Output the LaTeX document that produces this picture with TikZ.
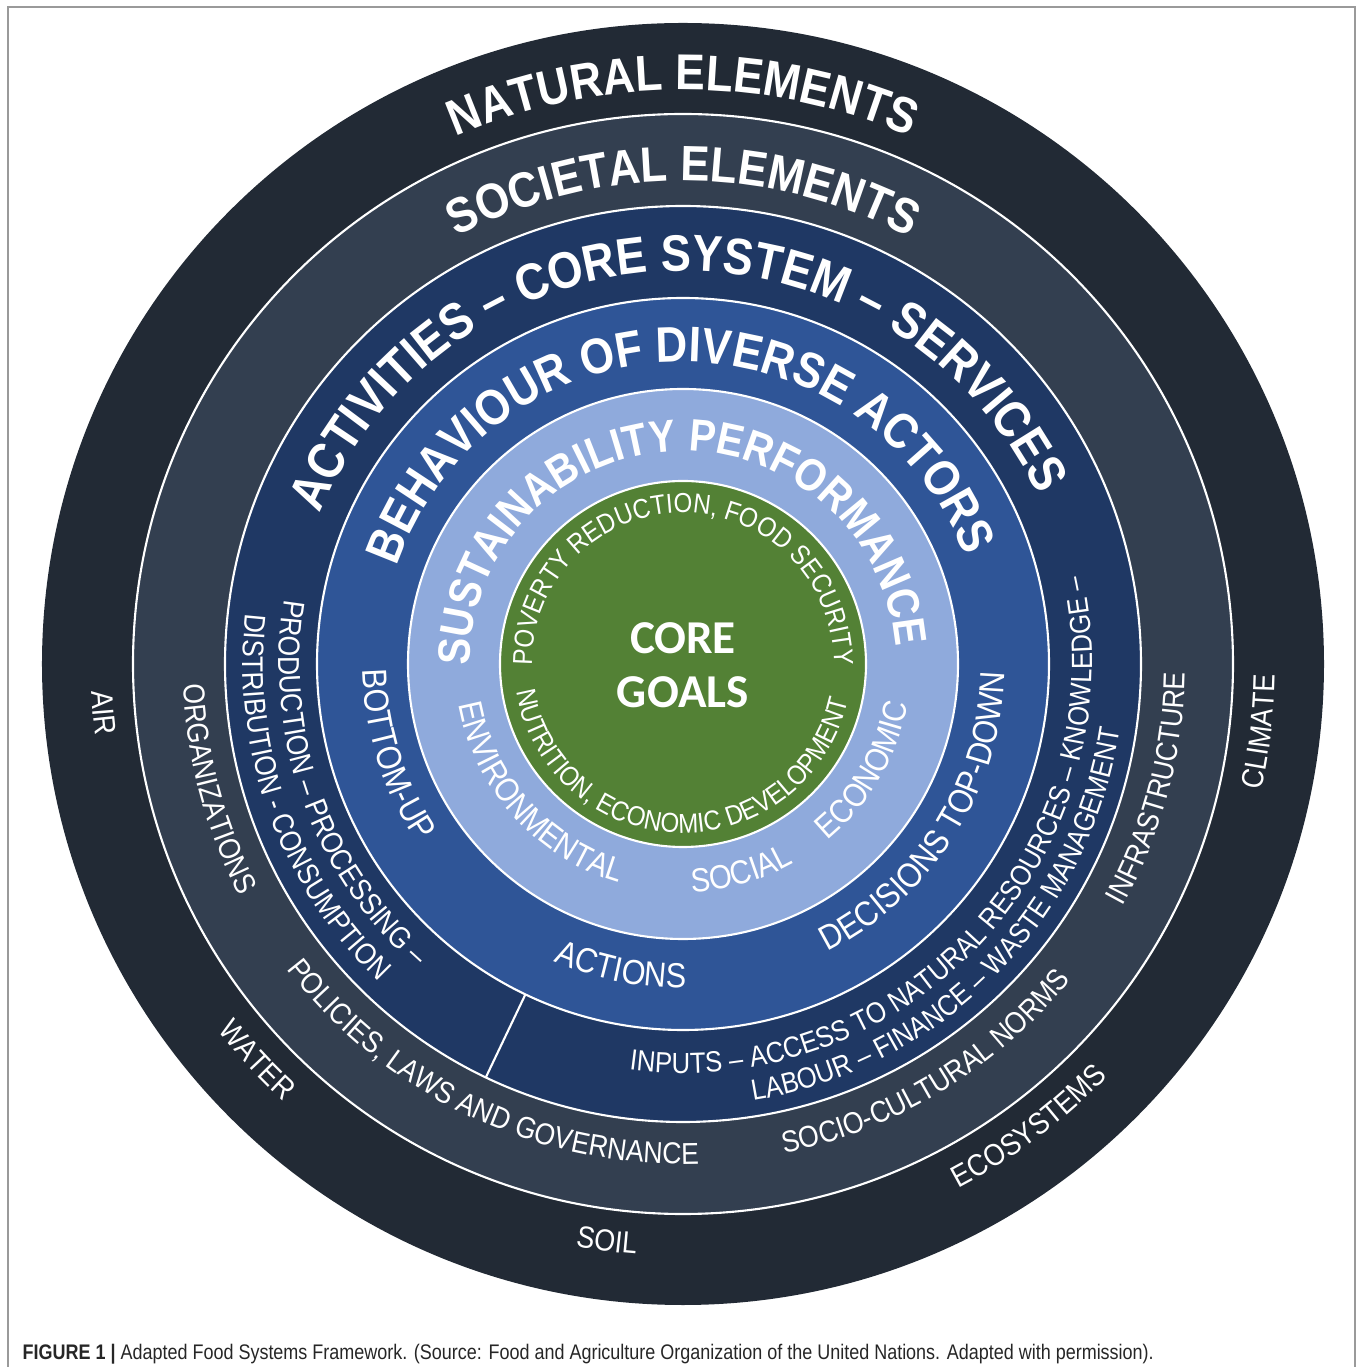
\documentclass[tikz,border=0pt]{standalone}
\usepackage{fontspec}
\setmainfont{Liberation Sans}
\newfontfamily\ringfont[FakeStretch=0.88]{Liberation Sans}
\newfontfamily\goalfont{Carlito}
\newfontfamily\capfont[FakeStretch=0.852]{Liberation Sans}
\usetikzlibrary{decorations.text}

\definecolor{natural}{HTML}{222A35}
\definecolor{societal}{HTML}{333F50}
\definecolor{activity}{HTML}{1F3864}
\definecolor{behaviour}{HTML}{2F5597}
\definecolor{sustain}{HTML}{8FAADC}
\definecolor{goals}{HTML}{538135}
\definecolor{frame}{HTML}{9A9A9A}

% arcs that carry the ring labels: centred on angle #2, radius #1
\newcommand{\cwarc}[2]{(#2+110:#1) arc[start angle=#2+110, end angle=#2-110, radius=#1]}
\newcommand{\ccwarc}[2]{(#2-110:#1) arc[start angle=#2-110, end angle=#2+110, radius=#1]}
% label fonts
\newcommand{\headfont}[1]{\ringfont\bfseries\fontsize{#1}{#1}\selectfont}
\newcommand{\labfont}[1]{\ringfont\fontsize{#1}{#1}\selectfont}

\tikzset{
  ring/.style={fill=#1, draw=none},
  ringline/.style={draw=white, line width=0.6pt},
  ring text/.style={
    decorate,
    decoration={text along path, text align=center, text color=white, text={#1}}
  },
  goal text/.style={
    text=white, align=center,
    font=\goalfont\bfseries\fontsize{13.4}{15.4}\selectfont
  }
}

\begin{document}
\begin{tikzpicture}[x=0.01cm, y=0.01cm]
  \useasboundingbox (-683,-703) rectangle (679,664);
  \draw[frame, line width=0.45pt] (-675,-703) -- (-675,657) -- (672,657) -- (672,-703);

  % rings, outside in
  \fill[ring=natural]   (0,0) circle[radius=641];
  \fill[ring=societal]  (0,0) circle[radius=550];
  \fill[ring=activity]  (0,0) circle[radius=458];
  \fill[ring=behaviour] (0,0) circle[radius=366];
  \fill[ring=sustain]   (0,0) circle[radius=275];
  \fill[ring=goals]     (0,0) circle[radius=183];
  \foreach \r in {550,458,366,275,183}
    \draw[ringline] (0,0) circle[radius=\r];
  \draw[ringline] (244.5:366) -- (244.5:458);

  % headings along the top
  \path[ring text={|\headfont{14.3}|NATURAL ELEMENTS}] \cwarc{574}{90};
  \path[ring text={|\headfont{14.1}|SOCIETAL ELEMENTS}] \cwarc{483}{90};
  \path[ring text={|\headfont{14.6}|ACTIVITIES – CORE SYSTEM – SERVICES}] \cwarc{393}{91.5};
  \path[ring text={|\headfont{14.2}|BEHAVIOUR OF DIVERSE ACTORS}] \cwarc{302}{91};
  \path[ring text={|\headfont{12.9}|SUSTAINABILITY PERFORMANCE}] \cwarc{213}{92.5};
  \path[ring text={|\labfont{7.8}|POVERTY REDUCTION, FOOD SECURITY}] \cwarc{151}{90};

  % core goals
  \path[ring text={|\labfont{7.8}|NUTRITION, ECONOMIC DEVELOPMENT}] \ccwarc{169}{268.5};
  \node[goal text] (core) at (0,-1) {CORE\\GOALS};

  % sustainability
  \path[ring text={|\labfont{9.5}|ENVIRONMENTAL}] \ccwarc{228}{222};
  \path[ring text={|\labfont{9.5}|SOCIAL}] \ccwarc{228}{285.7};
  \path[ring text={|\labfont{9.5}|ECONOMIC}] \ccwarc{228}{329.7};

  % behaviour
  \path[ring text={|\labfont{9.9}|BOTTOM-UP}] \ccwarc{320}{197.5};
  \path[ring text={|\labfont{9.9}|ACTIONS}] \ccwarc{324}{258.5};
  \path[ring text={|\labfont{9.9}|DECISIONS TOP-DOWN}] \ccwarc{322}{327.6};

  % activities
  \path[ring text={|\labfont{8.6}|PRODUCTION – PROCESSING –}] \ccwarc{404}{199.7};
  \path[ring text={|\labfont{8.5}|DISTRIBUTION - CONSUMPTION}] \ccwarc{440}{199.8};
  \path[ring text={|\labfont{8.3}|INPUTS – ACCESS TO NATURAL RESOURCES – KNOWLEDGE –}] \ccwarc{409}{317.4};
  \path[ring text={|\labfont{8.3}|LABOUR – FINANCE – WASTE MANAGEMENT}] \ccwarc{442}{315.3};

  % societal elements
  \path[ring text={|\labfont{8.6}|ORGANIZATIONS}] \ccwarc{500}{195};
  \path[ring text={|\labfont{8.6}|POLICIES, LAWS AND GOVERNANCE}] \ccwarc{500}{244.7};
  \path[ring text={|\labfont{8.6}|SOCIO-CULTURAL NORMS}] \ccwarc{500}{301.3};
  \path[ring text={|\labfont{8.6}|INFRASTRUCTURE}] \ccwarc{502}{345.1};

  % natural elements
  \foreach \a/\t in {184.8/AIR, 222.9/WATER, 262.5/SOIL, 306.8/ECOSYSTEMS, 353.3/CLIMATE}
    \path[ring text={|\labfont{8.7}|\t}] \ccwarc{592}{\a};

  \node[anchor=base west, inner sep=0pt, text=black!85, font=\capfont\fontsize{6}{7}\selectfont] (caption) at (-661,-695)
    {\textbf{FIGURE 1 |} Adapted Food Systems Framework. (Source: Food and Agriculture Organization of the United Nations. Adapted with permission).};
\end{tikzpicture}
\end{document}
